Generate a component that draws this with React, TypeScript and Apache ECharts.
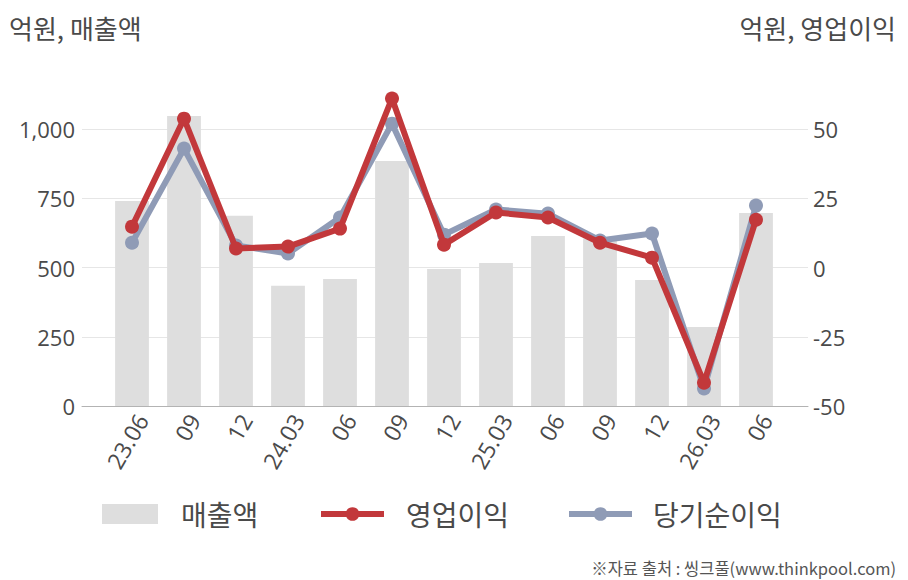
import React, { useEffect, useRef } from "react";
import * as echarts from "echarts";

const categories = ["23.06", "09", "12", "24.03", "06", "09", "12", "25.03", "06", "09", "12", "26.03", "06"];
const revenue = [741, 1048, 687, 434, 459, 885, 495, 517, 614, 605, 455, 285, 697];
const operatingProfit = [14.8, 53.8, 6.9, 7.6, 14.1, 61.1, 8.3, 19.9, 18.1, 9.0, 3.6, -41.6, 17.3];
const netIncome = [9.0, 43.0, 8.0, 5.1, 18.1, 52.0, 11.9, 21.0, 19.5, 9.8, 12.3, -43.7, 22.4];
const seriesNames = ["매출액", "영업이익", "당기순이익"];
const leftTitle = "억원, 매출액";
const rightTitle = "억원, 영업이익";
const sourceText = "※자료 출처 : 씽크풀(www.thinkpool.com)";

const KR = '"Noto Sans CJK KR", "Noto Sans", sans-serif';
const NUM = '"Open Sans", "Noto Sans", sans-serif';
const TEXT = "#4a4a4a";
const RED = "#c2383b";
const BLUE = "#8f9bb6";
const BAR = "#dedede";

export default function App() {
  const ref = useRef<HTMLDivElement>(null);
  useEffect(() => {
    document.body.style.margin = "0";
    const chart = echarts.init(ref.current!, undefined, { renderer: "svg" });
    const fmtNum = (v: number) => v.toLocaleString("en-US");
    const legendText = { fontFamily: KR, fontSize: 28, color: TEXT };
    chart.setOption({
      animation: false,
      title: [
        { text: leftTitle, left: 9, top: 14, padding: 0, textStyle: { fontFamily: KR, fontSize: 26, fontWeight: "normal", color: TEXT } },
        { text: rightTitle, right: 12, top: 14, padding: 0, textStyle: { fontFamily: KR, fontSize: 26, fontWeight: "normal", color: TEXT } },
        { text: sourceText, right: 12, top: 560, padding: 0, textStyle: { fontFamily: KR, fontSize: 16.5, fontWeight: "normal", color: "#555" } },
      ],
      legend: [
        {
          data: [{ name: seriesNames[0], icon: "rect" }], left: 102, top: 500, padding: 0, itemWidth: 56, itemHeight: 20,
          textStyle: { ...legendText, padding: [0, 0, 0, 18] },
        },
        {
          data: [seriesNames[1]], left: 318, top: 500, padding: 0, itemWidth: 63, itemHeight: 17,
          lineStyle: { width: 6 },
          textStyle: { ...legendText, padding: [0, 0, 0, 17] },
        },
        {
          data: [seriesNames[2]], left: 566, top: 500, padding: 0, itemWidth: 63, itemHeight: 17,
          lineStyle: { width: 6 },
          textStyle: { ...legendText, padding: [0, 0, 0, 16] },
        },
      ],
      grid: [
        { left: 106, width: 676, top: 60, height: 346 },
        { left: 82, width: 726, top: 60, height: 346 },
      ],
      xAxis: [
        {
          type: "category", gridIndex: 0, data: categories, boundaryGap: true,
          axisLine: { show: false }, axisTick: { show: false },
          axisLabel: { rotate: 60, margin: 4, verticalAlign: "top", fontFamily: NUM, fontSize: 23, color: TEXT, interval: 0 },
        },
        {
          type: "value", gridIndex: 1, min: 0, max: 1,
          axisLine: { show: true, onZero: false, lineStyle: { color: "#b3b3b3", width: 1 } },
          axisTick: { show: false }, axisLabel: { show: false }, splitLine: { show: false },
        },
      ],
      yAxis: [
        { type: "value", gridIndex: 0, min: 0, max: 1250, interval: 250, show: false },
        { type: "value", gridIndex: 0, min: -50, max: 75, interval: 25, show: false },
        {
          type: "value", gridIndex: 1, position: "left", min: 0, max: 1250, interval: 250,
          axisLine: { show: false }, axisTick: { show: false },
          axisLabel: { margin: 7, fontFamily: NUM, fontSize: 22, color: TEXT, formatter: (v: number) => (v >= 1250 ? "" : fmtNum(v)) },
          splitLine: { show: true, lineStyle: { color: ["#e6e6e6", "#e6e6e6", "#e6e6e6", "#e6e6e6", "#e6e6e6", "rgba(0,0,0,0)"], width: 1 } },
        },
        {
          type: "value", gridIndex: 1, position: "right", min: -50, max: 75, interval: 25,
          axisLine: { show: false }, axisTick: { show: false },
          axisLabel: { margin: 5, fontFamily: NUM, fontSize: 22, color: TEXT, formatter: (v: number) => (v >= 75 ? "" : String(v)) },
          splitLine: { show: false },
        },
      ],
      series: [
        {
          name: seriesNames[0], type: "bar", xAxisIndex: 0, yAxisIndex: 0, data: revenue,
          barCategoryGap: "35%", itemStyle: { color: BAR }, emphasis: { disabled: true },
        },
        {
          name: seriesNames[2], type: "line", xAxisIndex: 0, yAxisIndex: 1, data: netIncome,
          symbol: "circle", symbolSize: 14, lineStyle: { color: BLUE, width: 6 }, itemStyle: { color: BLUE },
          emphasis: { disabled: true }, z: 3,
        },
        {
          name: seriesNames[1], type: "line", xAxisIndex: 0, yAxisIndex: 1, data: operatingProfit,
          symbol: "circle", symbolSize: 14, lineStyle: { color: RED, width: 6 }, itemStyle: { color: RED },
          emphasis: { disabled: true }, z: 4,
        },
      ],
    });
    return () => chart.dispose();
  }, []);
  return <div ref={ref} style={{ width: 908, height: 580 }} />;
}
